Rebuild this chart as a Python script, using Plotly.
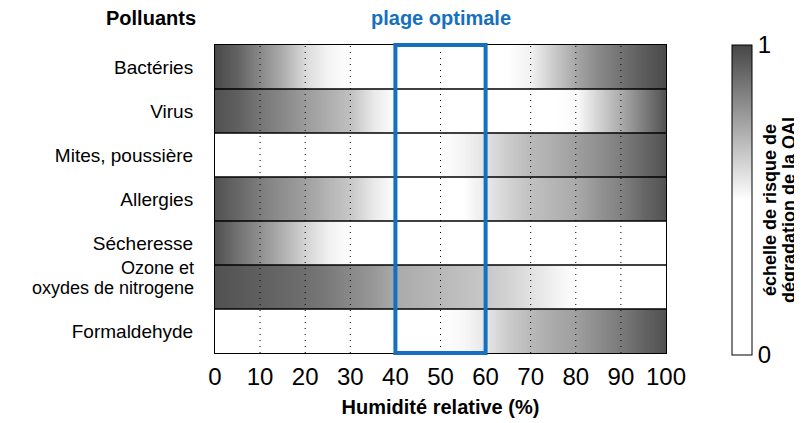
import plotly.graph_objects as go

# ---- data ----
humidity = [0, 5, 10, 15, 20, 25, 30, 35, 40, 45, 50, 55, 60, 65, 70, 75, 80, 85, 90, 95, 100]
pollutants = ["Bactéries", "Virus", "Mites, poussière", "Allergies", "Sécheresse",
              "Ozone et<br>oxydes de nitrogene", "Formaldehyde"]
bacteries = [0.99, 0.92, 0.82, 0.72, 0.60, 0.53, 0.50, 0, 0, 0, 0, 0, 0, 0.50, 0.54, 0.64, 0.74, 0.82, 0.88, 0.94, 0.99]
virus = [0.97, 0.93, 0.87, 0.82, 0.77, 0.72, 0.67, 0.56, 0.50, 0, 0, 0, 0, 0, 0, 0.50, 0.51, 0.62, 0.73, 0.85, 0.97]
mites = [0, 0, 0, 0, 0, 0, 0, 0, 0, 0, 0.50, 0.53, 0.58, 0.64, 0.69, 0.72, 0.76, 0.80, 0.85, 0.91, 0.97]
allergies = [0.97, 0.91, 0.85, 0.80, 0.76, 0.70, 0.65, 0.56, 0.50, 0, 0, 0.50, 0.56, 0.62, 0.67, 0.70, 0.73, 0.79, 0.84, 0.91, 0.97]
secheresse = [0.97, 0.88, 0.80, 0.71, 0.62, 0.54, 0.50, 0, 0, 0, 0, 0, 0, 0, 0, 0, 0, 0, 0, 0, 0]
ozone = [0.97, 0.95, 0.93, 0.91, 0.89, 0.86, 0.82, 0.78, 0.73, 0.71, 0.69, 0.67, 0.65, 0.62, 0.58, 0.54, 0.50, 0, 0, 0, 0]
formaldehyde = [0, 0, 0, 0, 0, 0, 0, 0, 0, 0, 0.50, 0.52, 0.57, 0.64, 0.69, 0.73, 0.76, 0.81, 0.86, 0.92, 0.97]
rows = [bacteries, virus, mites, allergies, secheresse, ozone, formaldehyde]
x_ticks = [0, 10, 20, 30, 40, 50, 60, 70, 80, 90, 100]
optimal_range = [40, 60]
cbar_ticks = [0, 1]

FONT = "Liberation Sans, Arial, sans-serif"
BLUE = "#1570BE"
# the page body adds an 8px margin; compensate so the plot lands where the reference has it
OFF = 8
W, H = 802 - OFF, 423 - OFF
ML, MT = 215 - OFF, 45 - OFF
PW, PH = 451, 308
MR, MB = W - ML - PW, H - MT - PH


def px_x(px):  # page pixel -> paper x
    return (px - 215) / PW


def px_y(py):  # page pixel -> paper y
    return (353 - py) / PH


fig = go.Figure()
for i, vals in enumerate(rows):
    fig.add_trace(go.Heatmap(
        x=humidity, y=[i - 0.25, i + 0.25], z=[vals, vals],
        zsmooth="best", coloraxis="coloraxis", hoverinfo="skip"))

shapes = []
for t in x_ticks[1:-1]:
    shapes.append(dict(type="line", xref="x", yref="paper", x0=t, x1=t, y0=0, y1=1,
                       line=dict(color="black", width=1, dash="1px,5px"), layer="above"))
for i in range(len(pollutants) - 1):
    shapes.append(dict(type="line", xref="paper", yref="y", x0=0, x1=1, y0=i + 0.5, y1=i + 0.5,
                       line=dict(color="black", width=1.5), layer="above"))
shapes.append(dict(type="rect", xref="x", yref="paper", x0=optimal_range[0], x1=optimal_range[1],
                   y0=0, y1=1, line=dict(color=BLUE, width=4), fillcolor="rgba(0,0,0,0)", layer="above"))

annotations = [
    dict(text="<b>Polluants</b>", xref="paper", yref="paper", x=px_x(151), y=px_y(18),
         showarrow=False, font=dict(size=20, color="black", family=FONT), xanchor="center", yanchor="middle"),
    dict(text="<b>plage optimale</b>", xref="x", yref="paper", x=sum(optimal_range) / 2, y=px_y(18),
         showarrow=False, font=dict(size=20, color=BLUE, family=FONT), xanchor="center", yanchor="middle"),
    dict(text="<b>échelle de risque de</b>", xref="paper", yref="paper",
         x=px_x(770), y=px_y(210), textangle=-90, showarrow=False,
         font=dict(size=18, color="black", family=FONT), xanchor="center", yanchor="middle"),
    dict(text="<b>dégradation de la QAI</b>", xref="paper", yref="paper",
         x=px_x(789), y=px_y(210), textangle=-90, showarrow=False,
         font=dict(size=18, color="black", family=FONT), xanchor="center", yanchor="middle"),
]

ticktext = []
for i, lab in enumerate(pollutants):
    if "<br>" in lab:
        ticktext.append("")
        lines = lab.split("<br>")
        for k, ln in enumerate(lines):
            annotations.append(dict(
                text=ln, xref="paper", yref="y", x=0, xshift=-19, xanchor="right",
                y=i - 0.43 + k * 0.45, yanchor="middle", showarrow=False,
                font=dict(size=18, color="black", family=FONT)))
    else:
        ticktext.append(lab)

fig.update_layout(
    width=W, height=H,
    margin=dict(l=ML, r=MR, t=MT, b=MB, autoexpand=False),
    paper_bgcolor="white", plot_bgcolor="white",
    font=dict(family=FONT, color="black"),
    showlegend=False,
    coloraxis=dict(
        cmin=0, cmax=1,
        colorscale=[[0, "#ffffff"], [0.5, "#ffffff"], [1, "#464646"]],
        colorbar=dict(
            x=px_x(732), xanchor="left", xpad=0,
            y=px_y(200), yanchor="middle", ypad=0,
            thickness=20, thicknessmode="pixels",
            len=310, lenmode="pixels",
            outlinewidth=1, outlinecolor="black",
            tickvals=cbar_ticks, ticktext=[str(t) for t in cbar_ticks],
            ticks="", tickfont=dict(size=24, family=FONT, color="black"),
        ),
    ),
    xaxis=dict(
        range=[x_ticks[0], x_ticks[-1]], tickvals=x_ticks, ticks="", automargin=False,
        tickfont=dict(size=24, family=FONT), showgrid=False, zeroline=False,
        showline=True, linecolor="black", linewidth=1, mirror=True, ticklabelstandoff=2,
        title=dict(text="<b>Humidité relative (%)</b>", font=dict(size=20, family=FONT), standoff=11),
    ),
    yaxis=dict(
        range=[len(pollutants) - 0.5, -0.5], tickvals=list(range(len(pollutants))), ticktext=ticktext,
        ticks="", tickfont=dict(size=19, family=FONT), showgrid=False, zeroline=False, automargin=False,
        showline=True, linecolor="black", linewidth=1, mirror=True, ticklabelstandoff=17,
    ),
    shapes=shapes,
    annotations=annotations,
)

fig.write_html("out.html")
